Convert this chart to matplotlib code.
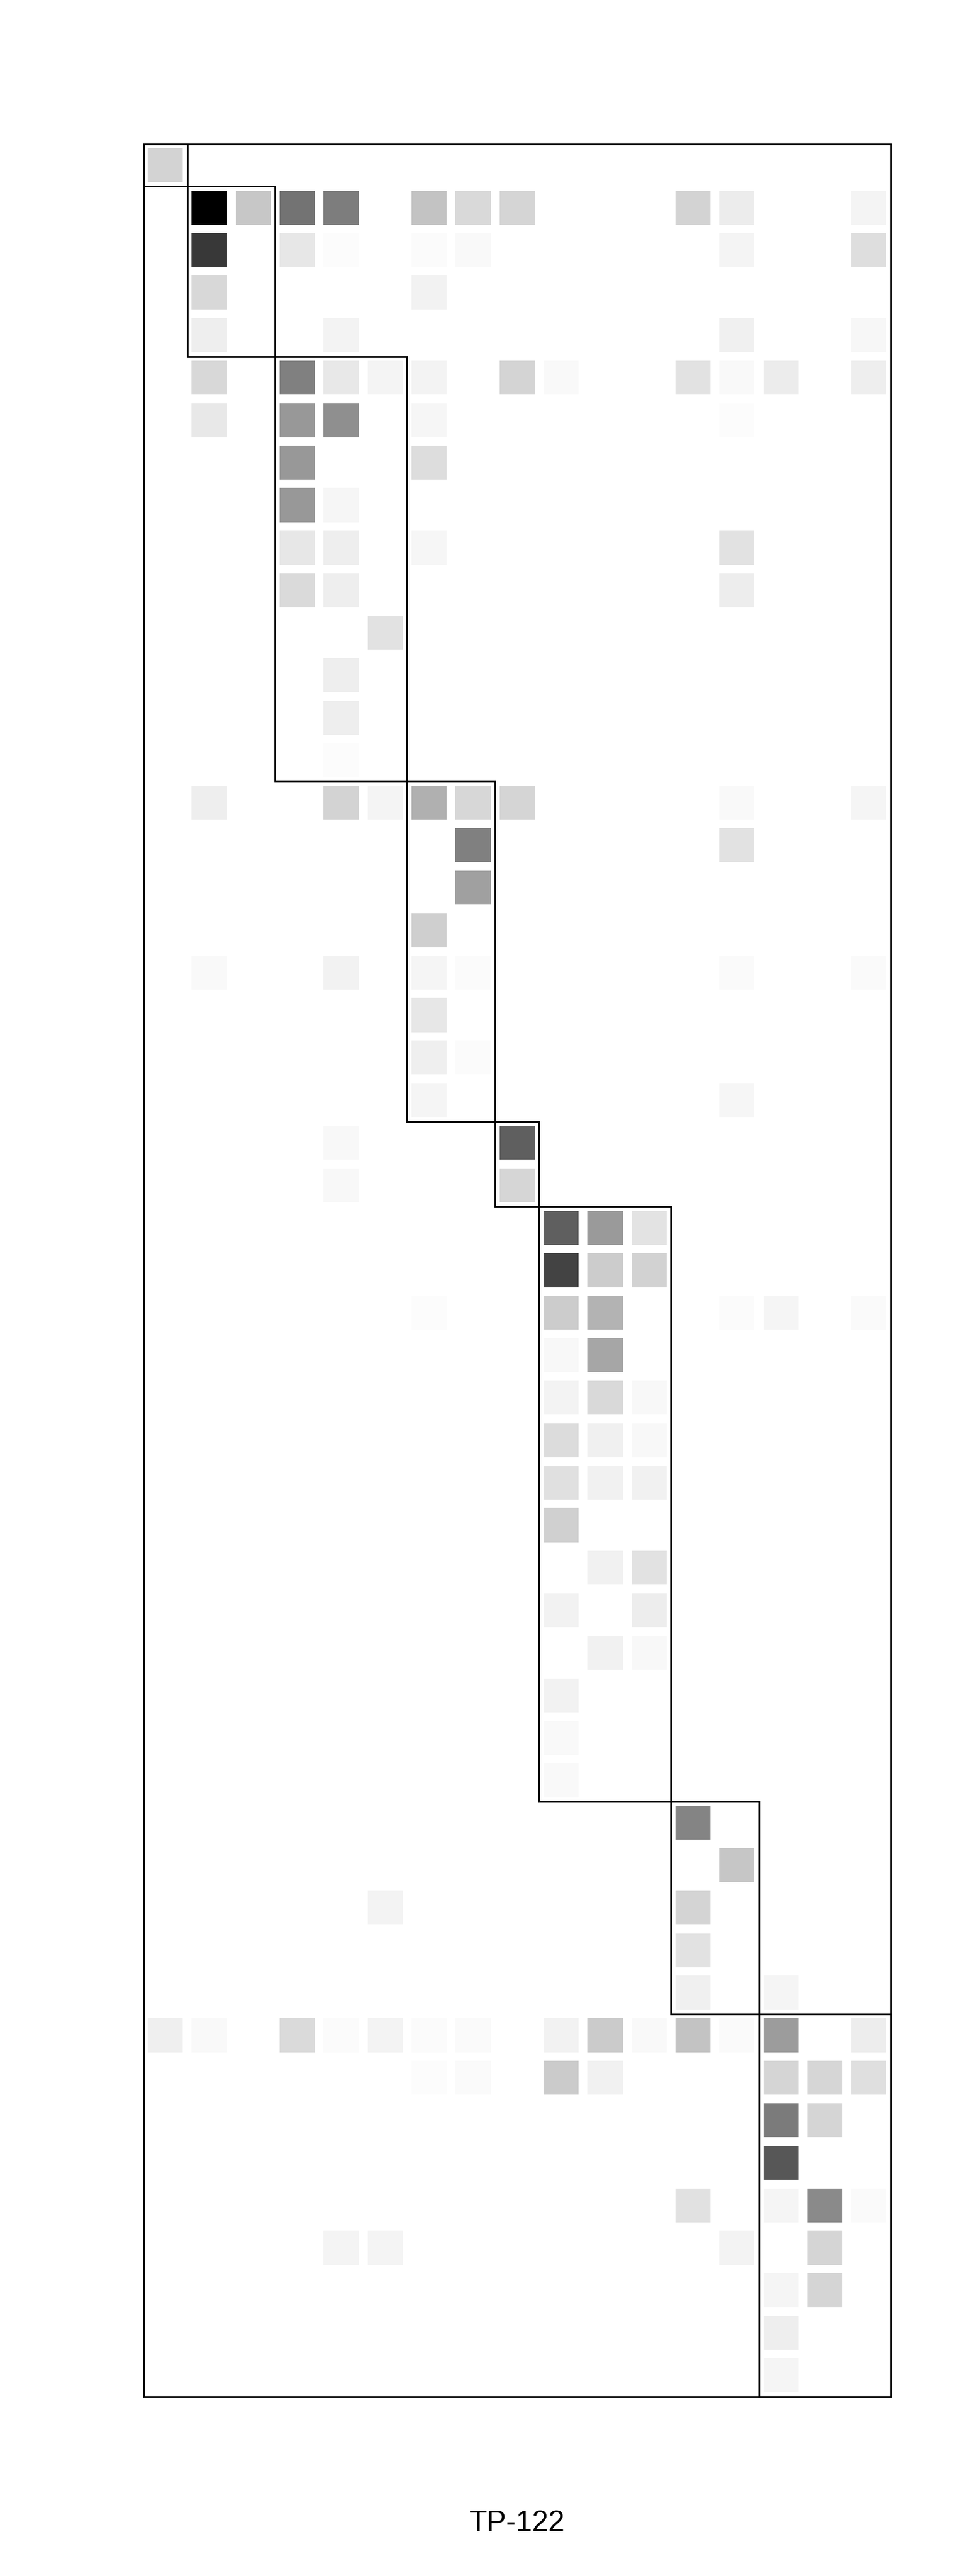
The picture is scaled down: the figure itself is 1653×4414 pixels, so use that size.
import matplotlib
matplotlib.use("Agg")
import matplotlib.pyplot as plt
from matplotlib.patches import Rectangle
from matplotlib.collections import PatchCollection
import numpy as np

# ---------------- data ----------------
n_rows = 53
n_cols = 17

# non-empty cells: row index, column index, grey level (0 = black, 255 = white)
cell_rows = [
    0,
    1, 1, 1, 1, 1, 1, 1, 1, 1, 1,
    2, 2, 2, 2, 2, 2, 2,
    3, 3,
    4, 4, 4, 4,
    5, 5, 5, 5, 5, 5, 5, 5, 5, 5, 5,
    6, 6, 6, 6, 6,
    7, 7,
    8, 8,
    9, 9, 9, 9,
    10, 10, 10,
    11,
    12,
    13,
    14,
    15, 15, 15, 15, 15, 15, 15, 15,
    16, 16,
    17,
    18,
    19, 19, 19, 19, 19, 19,
    20,
    21, 21,
    22, 22,
    23, 23,
    24, 24,
    25, 25, 25,
    26, 26, 26,
    27, 27, 27, 27, 27, 27,
    28, 28,
    29, 29, 29,
    30, 30, 30,
    31, 31, 31,
    32,
    33, 33,
    34, 34,
    35, 35,
    36,
    37,
    38,
    39,
    40,
    41, 41,
    42,
    43, 43,
    44, 44, 44, 44, 44, 44, 44, 44, 44, 44, 44, 44, 44, 44,
    45, 45, 45, 45, 45, 45, 45,
    46, 46,
    47,
    48, 48, 48, 48,
    49, 49, 49, 49,
    50, 50,
    51,
    52,
]
cell_cols = [
    0,
    1, 2, 3, 4, 6, 7, 8, 12, 13, 16,
    1, 3, 4, 6, 7, 13, 16,
    1, 6,
    1, 4, 13, 16,
    1, 3, 4, 5, 6, 8, 9, 12, 13, 14, 16,
    1, 3, 4, 6, 13,
    3, 6,
    3, 4,
    3, 4, 6, 13,
    3, 4, 13,
    5,
    4,
    4,
    4,
    1, 4, 5, 6, 7, 8, 13, 16,
    7, 13,
    7,
    6,
    1, 4, 6, 7, 13, 16,
    6,
    6, 7,
    6, 13,
    4, 8,
    4, 8,
    9, 10, 11,
    9, 10, 11,
    6, 9, 10, 13, 14, 16,
    9, 10,
    9, 10, 11,
    9, 10, 11,
    9, 10, 11,
    9,
    10, 11,
    9, 11,
    10, 11,
    9,
    9,
    9,
    12,
    13,
    5, 12,
    12,
    12, 14,
    0, 1, 3, 4, 5, 6, 7, 9, 10, 11, 12, 13, 14, 16,
    6, 7, 9, 10, 14, 15, 16,
    14, 15,
    14,
    12, 14, 15, 16,
    4, 5, 13, 15,
    14, 15,
    14,
    14,
]
cell_grey = [
    211,
    0, 199, 115, 125, 195, 217, 213, 211, 236, 244,
    56, 231, 252, 251, 249, 244, 222,
    216, 242,
    238, 243, 240, 247,
    216, 128, 232, 244, 243, 212, 249, 226, 249, 236, 238,
    232, 152, 143, 246, 252,
    152, 221,
    152, 246,
    231, 238, 246, 226,
    218, 238, 237,
    226,
    238,
    238,
    252,
    238, 211, 244, 176, 215, 213, 249, 245,
    128, 226,
    160,
    207,
    249, 242, 245, 251, 250, 250,
    231,
    239, 251,
    245, 246,
    248, 95,
    248, 214,
    95, 154, 227,
    67, 204, 210,
    252, 204, 179, 251, 245, 250,
    248, 166,
    243, 217, 248,
    220, 240, 248,
    224, 241, 241,
    208,
    241, 226,
    242, 237,
    241, 248,
    242,
    249,
    249,
    132,
    198,
    243, 212,
    226,
    240, 245,
    239, 249, 218, 251, 243, 251, 250, 242, 203, 249, 195, 250, 156, 237,
    252, 250, 203, 241, 213, 214, 223,
    123, 213,
    87,
    225, 245, 138, 250,
    244, 244, 243, 213,
    245, 213,
    238,
    245,
]

# bicluster boundaries (block i spans columns col_breaks[i]..col_breaks[i+1], rows row_breaks[i]..row_breaks[i+1])
col_breaks = [0, 1, 3, 6, 8, 9, 12, 14, 17]
row_breaks = [0, 1, 5, 15, 23, 25, 39, 44, 53]

title = "TP-122"

# ---------------- figure ----------------
W, H, DPI = 1653, 4414, 100
fig = plt.figure(figsize=(W / DPI, H / DPI), dpi=DPI)
fig.patch.set_facecolor("white")

left, right = 245.5 / W, 1526 / W
top, bottom = 1 - 246.5 / H, 1 - 4106.5 / H
ax = fig.add_axes([left, bottom, right - left, top - bottom])
ax.set_xlim(0, n_cols)
ax.set_ylim(n_rows, 0)
ax.axis("off")

intensity = (255 - np.array(cell_grey, dtype=float)) / 255.0
inset = 0.1
patches = [Rectangle((c + inset, r + inset), 1 - 2 * inset, 1 - 2 * inset)
           for r, c in zip(cell_rows, cell_cols)]
pc = PatchCollection(patches, cmap="gray_r", edgecolor="none", linewidth=0)
pc.set_array(intensity)
pc.set_clim(0, 1)
ax.add_collection(pc)

lw = 2.1
# outer frame
ax.add_patch(Rectangle((0, 0), n_cols, n_rows, fill=False, edgecolor="black",
                       linewidth=lw, clip_on=False, zorder=5))
# block outlines
for i in range(len(col_breaks) - 1):
    c0, c1 = col_breaks[i], col_breaks[i + 1]
    r0, r1 = row_breaks[i], row_breaks[i + 1]
    ax.add_patch(Rectangle((c0, r0), c1 - c0, r1 - r0, fill=False,
                           edgecolor="black", linewidth=lw, clip_on=False,
                           zorder=5))

fig.text(885.5 / W, 1 - 4337 / H, title, ha="center", va="baseline",
         fontsize=36, family=["Liberation Sans", "DejaVu Sans"], color="black")

fig.savefig("out.png", dpi=DPI, facecolor="white")
